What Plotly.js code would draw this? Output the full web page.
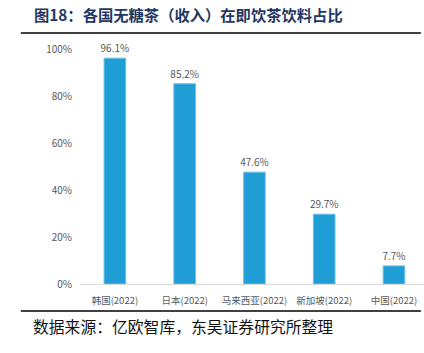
<!DOCTYPE html>
<html>
<head>
<meta charset="utf-8">
<script src="https://cdn.plot.ly/plotly-3.0.1.min.js"></script>
<style>
html,body{margin:0;padding:0;background:#fff;}
#chart{width:424px;height:353px;}
</style>
</head>
<body>
<div id="chart"></div>
<script>
const categories = ["韩国(2022)", "日本(2022)", "马来西亚(2022)", "新加坡(2022)", "中国(2022)"];
const shareValues = [96.1, 85.2, 47.6, 29.7, 7.7];
const valueLabels = ["96.1%", "85.2%", "47.6%", "29.7%", "7.7%"];
const yTickValues = [0, 20, 40, 60, 80, 100];
const yTickLabels = ["0%", "20%", "40%", "60%", "80%", "100%"];

const cjk = '"Noto Sans CJK SC", "Noto Sans", sans-serif';

const trace = {
  type: 'bar',
  x: categories,
  y: shareValues,
  text: valueLabels,
  textposition: 'outside',
  constraintext: 'none',
  cliponaxis: false,
  textfont: {family: cjk, size: 10, color: '#595959'},
  marker: {color: '#1f9dd5', line: {color: '#6cc2ea', width: 1}},
  width: 0.31,
  hoverinfo: 'none'
};

const layout = {
  width: 424,
  height: 353,
  margin: {l: 80, r: 0, t: 49, b: 69},
  paper_bgcolor: '#ffffff',
  plot_bgcolor: '#ffffff',
  showlegend: false,
  font: {family: cjk, size: 10, color: '#595959'},
  xaxis: {
    type: 'category',
    range: [-0.5, 4.43],
    showline: true,
    linecolor: '#d9d9d9',
    linewidth: 1,
    ticks: 'outside',
    ticklen: 8,
    tickcolor: 'rgba(0,0,0,0)',
    showgrid: false,
    tickfont: {family: cjk, size: 9.5, color: '#595959'},
    fixedrange: true
  },
  yaxis: {
    range: [0, 100],
    tickvals: yTickValues,
    ticktext: yTickLabels,
    showgrid: false,
    zeroline: false,
    showline: false,
    ticks: 'outside',
    ticklen: 5,
    tickcolor: 'rgba(0,0,0,0)',
    tickfont: {family: cjk, size: 10, color: '#595959'},
    fixedrange: true
  },
  shapes: [
    {type: 'line', xref: 'paper', yref: 'paper', x0: -0.172, x1: 0.991, y0: 1.068, y1: 1.068, line: {color: '#000000', width: 1.5}},
    {type: 'line', xref: 'paper', yref: 'paper', x0: -0.172, x1: 0.991, y0: -0.115, y1: -0.115, line: {color: '#000000', width: 1.5}}
  ],
  annotations: [
    {xref: 'paper', yref: 'paper', x: -0.14, y: 1.147, xanchor: 'left', yanchor: 'middle', showarrow: false,
     text: '<b>图18：各国无糖茶（收入）在即饮茶饮料占比</b>',
     font: {family: cjk, size: 15.3, color: '#1f3864'}},
    {xref: 'paper', yref: 'paper', x: -0.142, y: -0.179, xanchor: 'left', yanchor: 'middle', showarrow: false,
     text: '数据来源：亿欧智库，东吴证券研究所整理',
     font: {family: cjk, size: 15.8, color: '#111111'}}
  ]
};

Plotly.newPlot('chart', [trace], layout, {displayModeBar: false, staticPlot: true});
</script>
</body>
</html>
